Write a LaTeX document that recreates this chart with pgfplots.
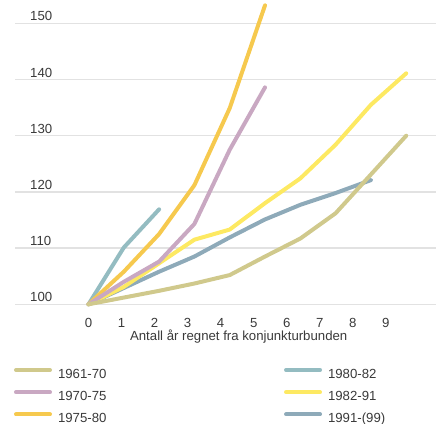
\documentclass[border=0pt]{standalone}
\usepackage{fontspec}
\setmainfont{Liberation Sans}
\usepackage{pgfplots}
\pgfplotsset{compat=1.18}

\definecolor{c6170}{HTML}{D0C98C}
\definecolor{c7075}{HTML}{C9A8C2}
\definecolor{c7580}{HTML}{F6C94E}
\definecolor{c8082}{HTML}{94BCC1}
\definecolor{c8291}{HTML}{FDE962}
\definecolor{c9199}{HTML}{8EAAB9}
\definecolor{gridc}{HTML}{E2E2E2}
\definecolor{txt}{HTML}{3A3A3A}

\begin{document}
\fontsize{13.2bp}{15bp}\selectfont
\begin{tikzpicture}
\useasboundingbox (-15bp,-119.7bp) rectangle (421bp,304.3bp);
\begin{axis}[
  at={(0,0)}, anchor=south west,
  width=421bp, height=304.3bp, scale only axis,
  xmin=-2.082, xmax=9.844, ymin=100, ymax=154.15,
  clip=false,
  axis line style={draw=none},
  major tick length=0pt,
  ytick={100,110,120,130,140,150},
  ymajorgrids,
  grid style={gridc, line width=1.3bp},
  xtick={0,0.936,1.872,2.808,3.744,4.68,5.616,6.552,7.488,8.424},
  xticklabels={0,1,2,3,4,5,6,7,8,9},
  /pgf/number format/assume math mode=true,
  ticklabel style={font=\fontsize{13.2bp}{15bp}\selectfont, text=txt},
  yticklabel style={anchor=base west, inner sep=0pt, xshift=15bp, yshift=2.5bp},
  xticklabel style={anchor=base, inner sep=0pt, yshift=-22.7bp},
  legend columns=2,
  legend cell align=left,
  legend style={
    draw=none, fill=none,
    at={(rel axis cs:0,0)}, anchor=north west,
    xshift=-1bp, yshift=-63.7bp,
    inner sep=0pt, outer sep=0pt,
    row sep=9.5bp,
    font=\fontsize{13.2bp}{15bp}\selectfont,
    text=txt,
    nodes={inner sep=0pt, text height=9.5bp, text depth=2.5bp},
    /tikz/every even column/.append style={column sep=177.6bp},
  },
  legend image code/.code={
    \draw[#1, line width=4bp, line cap=round] (0bp,4.7bp) -- (34bp,4.7bp);
    \path (40bp,0bp);
  },
  every axis plot/.append style={line width=4bp, line cap=round, line join=round},
]
% recoveries, index = 100 at the trough
\addplot[c9199, forget plot] coordinates {(0,100)(1,102.9)(2,105.8)(3,108.5)(4,111.9)(5,115.1)(6,117.7)(7,119.8)(8,122.1)};
\addplot[c8291, forget plot] coordinates {(0,100)(1,103.1)(2,107.3)(3,111.5)(4,113.3)(5,118.0)(6,122.4)(7,128.4)(8,135.5)(9,141.1)};
\addplot[c8082, forget plot] coordinates {(0,100)(1,110.1)(2,116.9)};
\addplot[c7580, forget plot] coordinates {(0,100)(1,105.8)(2,112.5)(3,121.2)(4,134.9)(5,153.2)};
\addplot[c7075, forget plot] coordinates {(0,100)(1,104.0)(2,107.6)(3,114.3)(4,127.5)(5,138.6)};
\addplot[c6170, forget plot] coordinates {(0,100)(1,101.2)(2,102.4)(3,103.7)(4,105.2)(5,108.5)(6,111.7)(7,116.2)(8,123.1)(9,130.0)};

\addlegendimage{c6170}\addlegendentry{1961-70}
\addlegendimage{c8082}\addlegendentry{1980-82}
\addlegendimage{c7075}\addlegendentry{1970-75}
\addlegendimage{c8291}\addlegendentry{1982-91}
\addlegendimage{c7580}\addlegendentry{1975-80}
\addlegendimage{c9199}\addlegendentry{1991-(99)}

\node[anchor=base, inner sep=0pt, text=txt] at (axis cs:4.255,100) [yshift=-36.2bp] {Antall år regnet fra konjunkturbunden};
\end{axis}
\end{tikzpicture}
\end{document}
